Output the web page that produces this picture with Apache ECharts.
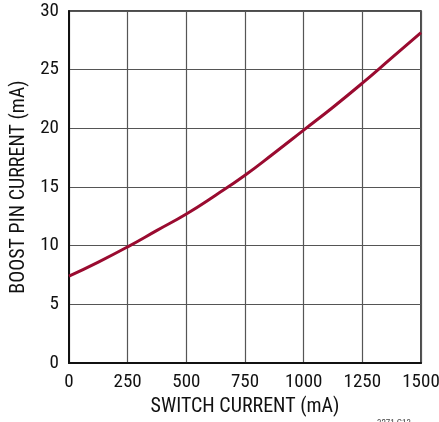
<!DOCTYPE html>
<html>
<head>
<meta charset="utf-8">
<script src="https://cdn.jsdelivr.net/npm/echarts@6/dist/echarts.min.js"></script>
<style>
  html, body { margin: 0; padding: 0; background: #fff; }
  #chart { width: 439px; height: 422px; }
</style>
</head>
<body>
<div id="chart"></div>
<script>
// switch current (mA) vs boost pin current (mA)
const switchCurrent = [0, 125, 250, 375, 500, 625, 750, 875, 1000, 1125, 1250, 1375, 1500];
const boostCurrent = [7.4, 8.6, 9.9, 11.3, 12.7, 14.3, 16.0, 17.9, 19.85, 21.8, 23.85, 26.0, 28.15];

const FONT = "'Roboto Condensed', 'DejaVu Sans Condensed', sans-serif";
const LINE_RED = "#9a0b30";

const chart = echarts.init(document.getElementById("chart"), null, { renderer: "canvas" });

chart.setOption({
  animation: false,
  textStyle: { fontFamily: FONT },
  grid: {
    left: 69, right: 18, top: 11, bottom: 59,
    outerBoundsMode: "none", containLabel: false,
    show: true, borderColor: "#111", borderWidth: 1.5,
  },
  xAxis: {
    type: "value", min: 0, max: 1500, interval: 250,
    name: "SWITCH CURRENT (mA)", nameLocation: "middle", nameGap: 33,
    nameTextStyle: { fontFamily: FONT, fontSize: 20, color: "#111" },
    axisLine: { show: true, lineStyle: { color: "#111", width: 2 } },
    axisTick: { show: false },
    axisLabel: { fontFamily: FONT, fontSize: 19, color: "#111", margin: 10, formatter: v => String(v) },
    splitLine: { show: true, lineStyle: { color: "#555", width: 1.2 } },
  },
  yAxis: {
    type: "value", min: 0, max: 30, interval: 5,
    name: "BOOST PIN CURRENT (mA)", nameLocation: "middle", nameGap: 40,
    nameTextStyle: { fontFamily: FONT, fontSize: 20, color: "#111" },
    axisLine: { show: true, lineStyle: { color: "#111", width: 2 } },
    axisTick: { show: false },
    axisLabel: { fontFamily: FONT, fontSize: 19, color: "#111", margin: 10, formatter: v => String(v) },
    splitLine: { show: true, lineStyle: { color: "#555", width: 1.2 } },
  },
  graphic: [{
    type: "text", right: 28, top: 419,
    style: { text: "3271 G13", fontFamily: FONT, fontSize: 9, fill: "#444" },
  }],
  series: [{
    type: "line",
    smooth: true,
    showSymbol: false,
    lineStyle: { color: LINE_RED, width: 3 },
    data: switchCurrent.map((x, i) => [x, boostCurrent[i]]),
  }],
});
</script>
</body>
</html>
